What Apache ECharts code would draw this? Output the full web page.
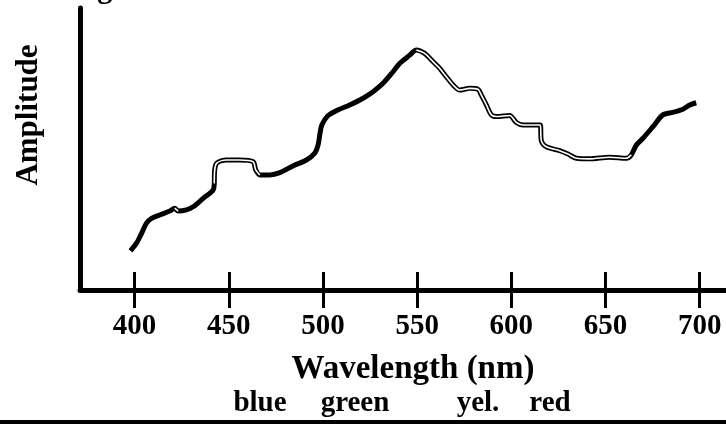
<!DOCTYPE html>
<html><head><meta charset="utf-8">
<script src="https://cdn.jsdelivr.net/npm/echarts@6/dist/echarts.min.js"></script>
<style>html,body{margin:0;padding:0;background:#fff}#c{width:726px;height:426px}</style>
</head><body><div id="c"></div>
<script>
// Data
const wavelength = [397.8,401.0,403.7,406.3,409.0,413.4,418.7,421.3,423.1,427.5,431.1,436.4,441.7,442.3,442.4,443.5,448.8,455.8,462.9,464.3,466.5,471.8,477.1,484.1,491.2,495.6,497.4,498.3,499.4,502.5,507.9,514.2,521.3,526.6,531.9,537.2,540.8,546.1,549.6,554.0,558.4,562.0,565.5,569.1,572.6,577.9,582.3,584.1,586.8,589.4,592.1,599.1,602.7,606.2,615.3,616.0,618.6,625.7,630.1,634.6,641.6,652.2,661.1,663.7,666.4,669.9,675.2,680.5,685.8,691.1,694.7,698.2];
const amplitude  = [13.9,16.6,20.1,23.7,25.4,26.6,28.0,29.0,28.0,28.4,29.5,32.5,35.5,37.8,41.4,44.9,46.1,46.1,45.5,42.6,40.8,40.8,41.6,44.0,46.1,48.5,51.4,55.0,58.5,61.7,63.8,65.6,68.0,70.3,73.3,77.4,80.4,83.3,85.1,83.9,81.0,78.6,75.6,72.7,70.9,71.5,71.2,69.1,65.6,62.1,61.5,61.9,59.4,58.5,58.5,52.8,50.8,49.4,48.2,46.7,46.5,47.1,46.7,47.9,51.4,53.8,57.9,62.1,63.0,64.1,65.6,66.4];
const doubleStrokeRanges = [[419,426],[442,468],[549,664]];
const tickLabels = [400,450,500,550,600,650,700];
const xAxisTitle = 'Wavelength (nm)';
const yAxisTitle = 'Amplitude';
const colourWords = ['blue','green','yel.','red'];
const topTitle = 'Strong absorbers';

const FONT = '"Liberation Serif", "Times New Roman", serif';
const outline = wavelength.map((w,i)=>[w, amplitude[i]]);
const inner = wavelength.map((w,i)=>{
  const on = doubleStrokeRanges.some(r=>w>=r[0] && w<=r[1]);
  return on ? [w, amplitude[i]] : [w, null];
});

const chart = echarts.init(document.getElementById('c'), null, {renderer:'canvas'});
const wordX = [260, 355, 478, 550];
chart.setOption({
  animation:false,
  backgroundColor:'#fff',
  grid:{left:80, right:0, top:8, bottom:136},
  xAxis:[{
    type:'value', min:371, max:714,
    axisLine:{show:true, lineStyle:{color:'#000', width:5}},
    axisTick:{show:true, length:18, lineStyle:{color:'#000', width:3}, customValues:tickLabels},
    axisLabel:{show:true, customValues:tickLabels, margin:22, color:'#000', fontFamily:FONT, fontWeight:'bold', fontSize:29},
    splitLine:{show:false}
  },{
    type:'value', min:371, max:714, position:'bottom',
    axisLine:{show:false},
    axisTick:{show:true, inside:true, length:18, lineStyle:{color:'#000', width:3}, customValues:tickLabels},
    axisLabel:{show:false},
    splitLine:{show:false}
  }],
  yAxis:{
    type:'value', min:0, max:100,
    axisLine:{show:true, lineStyle:{color:'#000', width:5}},
    axisTick:{show:false}, axisLabel:{show:false}, splitLine:{show:false}
  },
  series:[{
    type:'line', data:outline, showSymbol:false, smooth:0.3,
    lineStyle:{color:'#000', width:5}, z:2
  },{
    type:'line', data:inner, showSymbol:false, smooth:0.3, connectNulls:false,
    lineStyle:{color:'#fff', width:1.6}, z:3
  }],
  graphic:[
    {type:'text', x:26, y:5.5, style:{text:topTitle, font:'bold 30px '+FONT, fill:'#000', verticalAlign:'bottom', align:'left'}},
    {type:'text', x:29, y:115, rotation:Math.PI/2, style:{text:yAxisTitle, font:'bold 31px '+FONT, fill:'#000', align:'center', verticalAlign:'middle'}},
    {type:'text', x:413, y:369, style:{text:xAxisTitle, font:'bold 33px '+FONT, fill:'#000', align:'center', verticalAlign:'middle'}},
    ...colourWords.map((w,i)=>({type:'text', x:wordX[i], y:404, style:{text:w, font:'bold 29px '+FONT, fill:'#000', align:'center', verticalAlign:'middle'}})),
    {type:'rect', shape:{x:0, y:420, width:726, height:4}, style:{fill:'#000'}}
  ]
});
</script></body></html>
